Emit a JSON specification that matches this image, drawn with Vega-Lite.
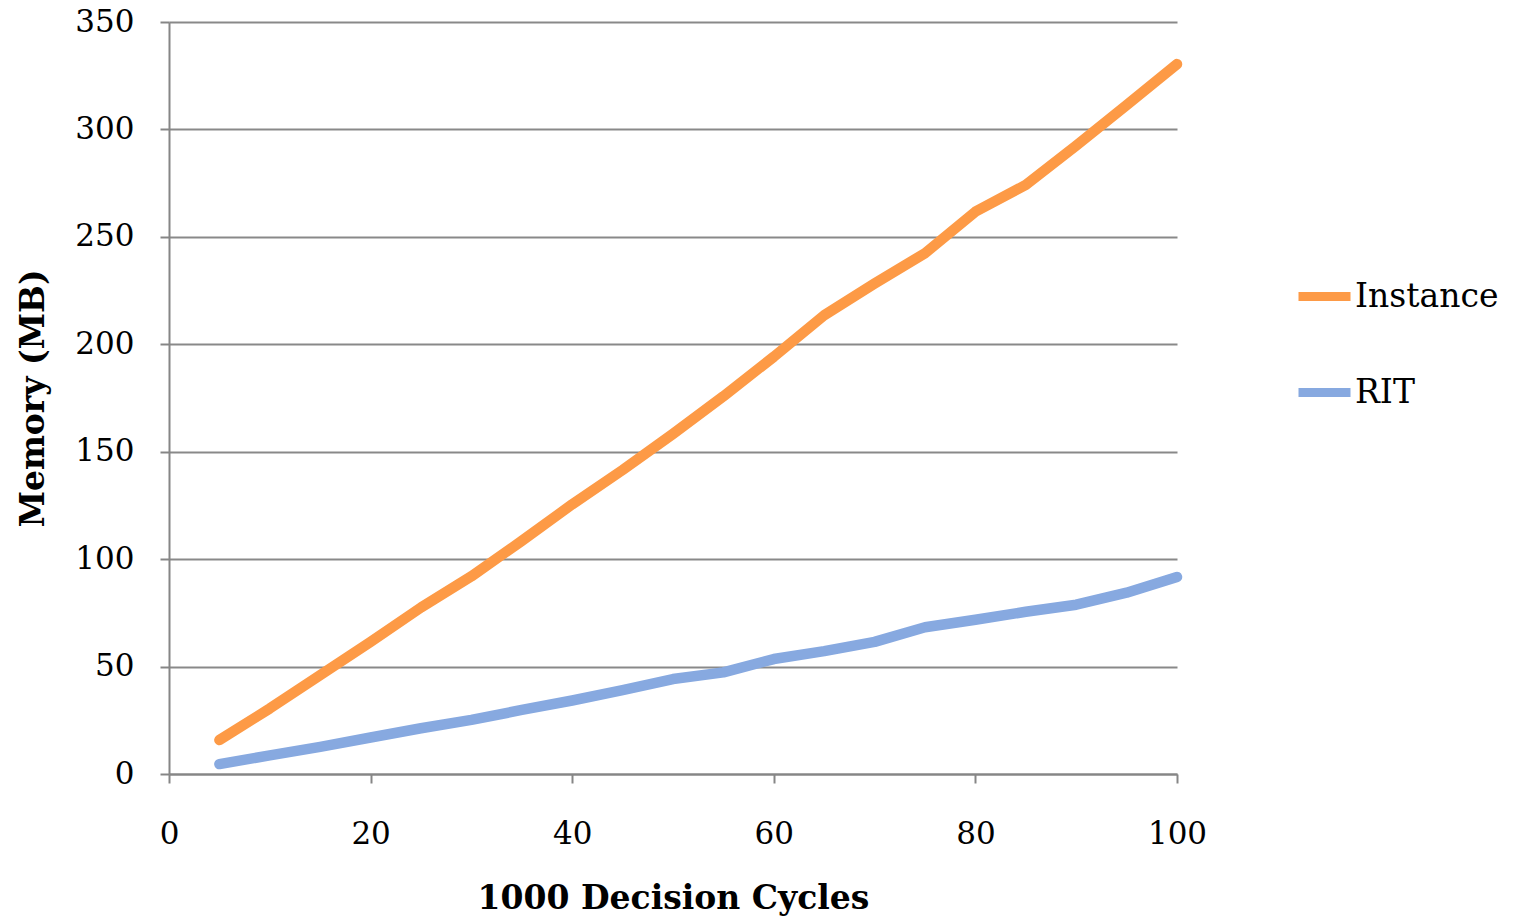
{
  "$schema": "https://vega.github.io/schema/vega-lite/v6.json",
  "width": 1008,
  "height": 752,
  "autosize": {"type": "none"},
  "padding": {"left": 169, "top": 22, "right": 336, "bottom": 147},
  "background": "white",
  "config": {
    "font": "DejaVu Serif",
    "view": {"stroke": null}
  },
  "data": {
    "values": [
      {"cycles": 5, "series": "Instance", "memory": 15.8},
      {"cycles": 10, "series": "Instance", "memory": 30.5},
      {"cycles": 15, "series": "Instance", "memory": 46},
      {"cycles": 20, "series": "Instance", "memory": 61.5},
      {"cycles": 25, "series": "Instance", "memory": 77.5},
      {"cycles": 30, "series": "Instance", "memory": 92},
      {"cycles": 35, "series": "Instance", "memory": 108.5},
      {"cycles": 40, "series": "Instance", "memory": 125.5},
      {"cycles": 45, "series": "Instance", "memory": 141.5},
      {"cycles": 50, "series": "Instance", "memory": 158.3},
      {"cycles": 55, "series": "Instance", "memory": 175.8},
      {"cycles": 60, "series": "Instance", "memory": 194.2},
      {"cycles": 65, "series": "Instance", "memory": 213.5},
      {"cycles": 70, "series": "Instance", "memory": 228.3},
      {"cycles": 75, "series": "Instance", "memory": 242.4},
      {"cycles": 80, "series": "Instance", "memory": 261.7},
      {"cycles": 85, "series": "Instance", "memory": 274.2},
      {"cycles": 90, "series": "Instance", "memory": 292.5},
      {"cycles": 95, "series": "Instance", "memory": 311.3},
      {"cycles": 100, "series": "Instance", "memory": 330.4},
      {"cycles": 5, "series": "RIT", "memory": 4.6},
      {"cycles": 10, "series": "RIT", "memory": 8.7},
      {"cycles": 15, "series": "RIT", "memory": 12.6},
      {"cycles": 20, "series": "RIT", "memory": 17},
      {"cycles": 25, "series": "RIT", "memory": 21.3},
      {"cycles": 30, "series": "RIT", "memory": 25.2},
      {"cycles": 35, "series": "RIT", "memory": 29.8},
      {"cycles": 40, "series": "RIT", "memory": 34.2},
      {"cycles": 45, "series": "RIT", "memory": 39},
      {"cycles": 50, "series": "RIT", "memory": 44.2},
      {"cycles": 55, "series": "RIT", "memory": 47.3},
      {"cycles": 60, "series": "RIT", "memory": 53.5},
      {"cycles": 65, "series": "RIT", "memory": 57.2},
      {"cycles": 70, "series": "RIT", "memory": 61.5},
      {"cycles": 75, "series": "RIT", "memory": 68.3},
      {"cycles": 80, "series": "RIT", "memory": 71.8},
      {"cycles": 85, "series": "RIT", "memory": 75.5},
      {"cycles": 90, "series": "RIT", "memory": 78.8},
      {"cycles": 95, "series": "RIT", "memory": 84.4},
      {"cycles": 100, "series": "RIT", "memory": 91.7}
    ]
  },
  "mark": {"type": "line", "strokeWidth": 10.5, "strokeCap": "round", "strokeJoin": "round"},
  "encoding": {
    "x": {
      "field": "cycles",
      "type": "quantitative",
      "scale": {"domain": [0, 100], "nice": false},
      "axis": {
        "title": "1000 Decision Cycles",
        "values": [0, 20, 40, 60, 80, 100],
        "grid": false,
        "labelFlush": false,
        "domainColor": "#868686",
        "domainWidth": 2,
        "tickColor": "#868686",
        "tickWidth": 2,
        "tickSize": 9,
        "labelFontSize": 31,
        "labelColor": "#000000",
        "labelPadding": 36,
        "labelFont": "DejaVu Serif",
        "labelFontWeight": "normal",
        "titleFontSize": 33,
        "titleFont": "DejaVu Serif",
        "titleFontWeight": "bold",
        "titleColor": "#000000",
        "titleY": 124,
        "titleBaseline": "middle"
      }
    },
    "y": {
      "field": "memory",
      "type": "quantitative",
      "scale": {"domain": [0, 350], "nice": false},
      "axis": {
        "title": "Memory (MB)",
        "values": [0, 50, 100, 150, 200, 250, 300, 350],
        "grid": true,
        "labelFlush": false,
        "gridColor": "#898989",
        "gridWidth": 2,
        "domainColor": "#868686",
        "domainWidth": 2,
        "tickColor": "#868686",
        "tickWidth": 2,
        "tickSize": 9,
        "labelFontSize": 31,
        "labelColor": "#000000",
        "labelPadding": 26,
        "labelFont": "DejaVu Serif",
        "titleFontSize": 33,
        "titleFont": "DejaVu Serif",
        "titleFontWeight": "bold",
        "titleColor": "#000000",
        "titleX": -136,
        "titleAngle": -90,
        "titleBaseline": "middle"
      }
    },
    "color": {
      "field": "series",
      "type": "nominal",
      "scale": {"domain": ["Instance", "RIT"], "range": ["#FD9A46", "#87A9E0"]},
      "legend": {
        "title": null,
        "orient": "none",
        "legendX": 1125,
        "legendY": 244,
        "symbolType": "stroke",
        "symbolSize": 2704,
        "symbolStrokeWidth": 9,
        "labelFontSize": 33,
        "labelFont": "DejaVu Serif",
        "labelColor": "#000000",
        "labelOffset": 0,
        "rowPadding": 47,
        "labelLimit": 400
      }
    }
  }
}
